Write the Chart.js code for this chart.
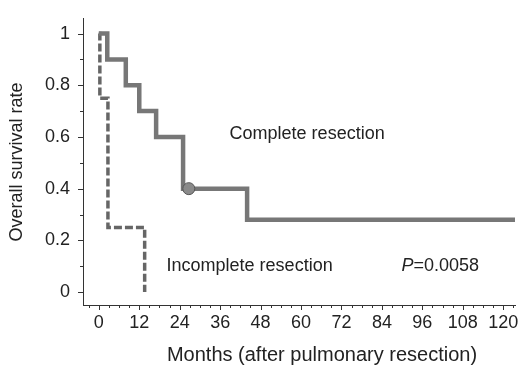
<!DOCTYPE html>
<html>
<head>
<meta charset="utf-8">
<script src="https://cdn.jsdelivr.net/npm/chart.js@4.4.1/dist/chart.umd.min.js"></script>
<style>
  html, body { margin: 0; padding: 0; background: #fff; }
  canvas { display: block; }
</style>
</head>
<body>
<canvas id="kmChart" width="522" height="367"></canvas>
<script>
// Kaplan-Meier data
const completeMonths = [0, 2.5, 8, 12, 17, 25, 44, 124];
const completeSurvival = [1, 0.9, 0.8, 0.7, 0.6, 0.4, 0.28, 0.28];
const incompleteMonths = [0, 0.3, 2.7, 13.6];
const incompleteSurvival = [1, 0.75, 0.25, 0];
const censoredMonths = [26.7];
const censoredSurvival = [0.4];

// tick labels
const xMajorTicks = [0, 12, 24, 36, 48, 60, 72, 84, 96, 108, 120];
const yMajorTicks = [0, 0.2, 0.4, 0.6, 0.8, 1];

const font = "'Liberation Sans', Arial, sans-serif";
const ink = "#222";

function toPoints(xs, ys) {
  return xs.map((x, i) => ({ x: x, y: ys[i] }));
}

// minor + major tick marks and the free text
const decorPlugin = {
  id: "decor",
  afterDraw(chart) {
    const ctx = chart.ctx;
    const xs = chart.scales.x;
    const ys = chart.scales.y;
    const area = chart.chartArea;
    ctx.save();
    ctx.strokeStyle = "#333";
    ctx.lineWidth = 1;
    ctx.beginPath();
    for (let m = -3; m <= 123; m += 3) {
      const px = Math.round(xs.getPixelForValue(m)) + 0.5;
      const len = m % 12 === 0 ? 5 : 3;
      ctx.moveTo(px, area.bottom);
      ctx.lineTo(px, area.bottom + len);
    }
    for (let k = 0; k <= 10; k++) {
      const py = Math.round(ys.getPixelForValue(k / 10)) + 0.5;
      const len = k % 2 === 0 ? 5 : 3;
      ctx.moveTo(area.left, py);
      ctx.lineTo(area.left - len, py);
    }
    ctx.stroke();

    ctx.fillStyle = ink;
    ctx.textBaseline = "middle";
    ctx.textAlign = "left";
    ctx.font = "18px " + font;
    ctx.fillText("Complete resection", xs.getPixelForValue(38.8), ys.getPixelForValue(0.61));
    ctx.fillText("Incomplete resection", xs.getPixelForValue(20.1), ys.getPixelForValue(0.1));
    const px = xs.getPixelForValue(89.8);
    const py = ys.getPixelForValue(0.1);
    ctx.font = "italic 18px " + font;
    ctx.fillText("P", px, py);
    const w = ctx.measureText("P").width;
    ctx.font = "18px " + font;
    ctx.fillText("=0.0058", px + w, py);

    // x axis title
    ctx.textAlign = "center";
    ctx.font = "20px " + font;
    ctx.fillText("Months (after pulmonary resection)", 322, 355);
    ctx.restore();
  }
};

const ctx = document.getElementById("kmChart").getContext("2d");
new Chart(ctx, {
  type: "line",
  data: {
    datasets: [
      {
        label: "Censored",
        type: "scatter",
        data: toPoints(censoredMonths, censoredSurvival),
        pointRadius: 6,
        pointBackgroundColor: "#8a8a8a",
        pointBorderColor: "#555",
        pointBorderWidth: 1,
        order: 0
      },
      {
        label: "Complete resection",
        data: toPoints(completeMonths, completeSurvival),
        stepped: "before",
        borderColor: "#777",
        borderWidth: 4.5,
        pointRadius: 0,
        fill: false,
        order: 1
      },
      {
        label: "Incomplete resection",
        data: toPoints(incompleteMonths, incompleteSurvival),
        stepped: "before",
        borderColor: "#666",
        borderWidth: 3.5,
        borderDash: [8, 3],
        pointRadius: 0,
        fill: false,
        order: 2
      }
    ]
  },
  options: {
    responsive: false,
    animation: false,
    layout: { padding: { top: 15, right: 7, left: 0, bottom: 0 } },
    plugins: {
      legend: { display: false },
      tooltip: { enabled: false }
    },
    scales: {
      x: {
        type: "linear",
        min: -4.7,
        max: 123.5,
        afterBuildTicks: (s) => { s.ticks = xMajorTicks.map((v) => ({ value: v })); },
        afterFit: (s) => { s.height = 62; },
        grid: { display: true, drawOnChartArea: false, tickLength: 5, tickColor: "rgba(0,0,0,0)" },
        border: { display: true, color: "#333", width: 1 },
        ticks: {
          color: ink,
          font: { family: font, size: 18 },
          padding: 2,
          maxRotation: 0,
          autoSkip: false,
          callback: (v) => String(v)
        }
      },
      y: {
        min: -0.05,
        max: 1.057,
        afterBuildTicks: (s) => { s.ticks = yMajorTicks.map((v) => ({ value: v })); },
        afterFit: (s) => { s.width = 83; },
        grid: { display: true, drawOnChartArea: false, tickLength: 5, tickColor: "rgba(0,0,0,0)" },
        border: { display: true, color: "#333", width: 1 },
        ticks: {
          color: ink,
          font: { family: font, size: 18 },
          padding: 8,
          callback: (v) => String(Math.round(v * 10) / 10)
        },
        title: {
          display: true,
          text: "Overall survival rate",
          color: ink,
          font: { family: font, size: 18 },
          padding: { top: 6, bottom: 0 }
        }
      }
    }
  },
  plugins: [decorPlugin]
});
</script>
</body>
</html>
